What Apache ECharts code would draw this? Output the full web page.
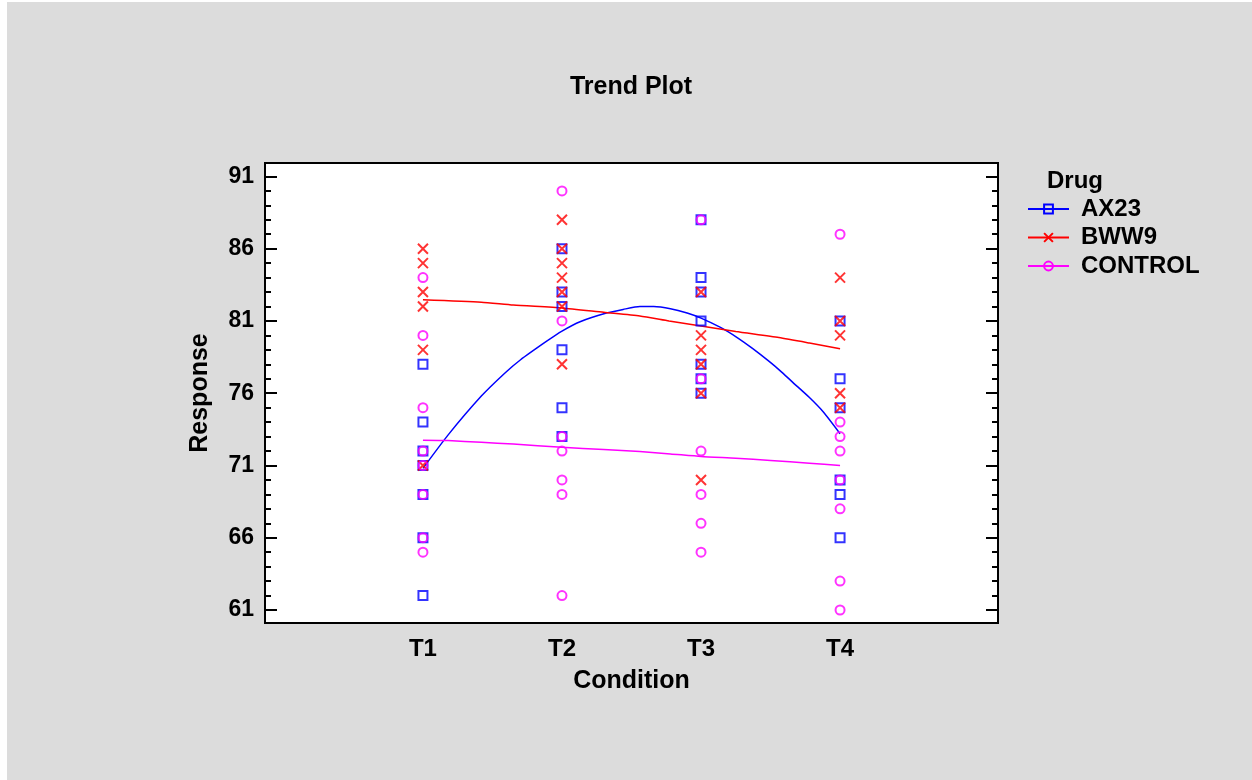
<!DOCTYPE html>
<html>
<head>
<meta charset="utf-8">
<script src="https://cdn.jsdelivr.net/npm/echarts@6/dist/echarts.min.js"></script>
<style>
  html, body { margin: 0; padding: 0; background: #ffffff; }
  #bg { position: absolute; left: 7px; top: 2px; width: 1245px; height: 778px; background: #dcdcdc; }
  #chart { position: absolute; left: 0; top: 0; width: 1252px; height: 780px; }
</style>
</head>
<body>
<div id="bg"></div>
<div id="chart"></div>
<script>
// ---- data ----
const conditions = ['T1', 'T2', 'T3', 'T4'];
const yTicks = [61, 66, 71, 76, 81, 86, 91];
const drugs = ['AX23', 'BWW9', 'CONTROL'];

// observed responses per condition (T1..T4)
const ax23Values = [
  [78, 74, 72, 71, 69, 66, 62],
  [86, 83, 82, 79, 75, 73],
  [88, 84, 83, 81, 78, 77, 76],
  [81, 77, 75, 70, 69, 66]
];
const bww9Values = [
  [86, 85, 83, 82, 79, 71],
  [88, 86, 85, 84, 83, 82, 78],
  [83, 80, 79, 78, 76, 70],
  [84, 81, 80, 76, 75]
];
const controlValues = [
  [84, 80, 75, 72, 71, 69, 66, 65],
  [90, 81, 73, 72, 70, 69, 62],
  [88, 77, 72, 69, 67, 65],
  [87, 74, 73, 72, 70, 68, 63, 61]
];

// fitted trend curves: [condition position, response]
const ax23Trend = [
  [1.0, 70.8], [1.18, 73.1], [1.42, 75.8], [1.59, 77.4], [1.70, 78.3], [1.89, 79.6],
  [2.0, 80.3], [2.13, 80.95], [2.32, 81.55], [2.44, 81.8], [2.56, 82.0], [2.66, 82.0],
  [2.78, 81.85], [2.90, 81.55], [3.0, 81.2], [3.14, 80.55], [3.26, 79.85], [3.37, 79.1],
  [3.49, 78.2], [3.57, 77.55], [3.66, 76.75], [3.78, 75.7], [3.88, 74.7], [4.0, 73.2]
];
const bww9Trend = [
  [1.0, 82.47], [1.42, 82.3], [1.65, 82.1], [2.0, 81.9], [2.3, 81.6], [2.56, 81.35],
  [2.77, 81.0], [3.0, 80.65], [3.25, 80.27], [3.56, 79.85], [3.78, 79.47], [4.0, 79.07]
];
const controlTrend = [
  [1.0, 72.75], [1.18, 72.72], [1.42, 72.6], [1.65, 72.48], [2.0, 72.26], [2.3, 72.1],
  [2.56, 71.96], [2.78, 71.8], [3.0, 71.62], [3.25, 71.5], [3.5, 71.35], [3.78, 71.15], [4.0, 71.0]
];

// ---- helpers ----
function toPoints(groups) {
  const out = [];
  groups.forEach((vals, i) => vals.forEach(v => out.push([i + 1, v])));
  return out;
}
const minorTicks = [];
for (let v = yTicks[0]; v <= yTicks[yTicks.length - 1]; v++) minorTicks.push(v);

const FONT = "'Liberation Sans', Arial, sans-serif";
const BLUE = '#0000ff', RED = '#ff0000', MAG = '#ff00ff';
const xSymbol = 'path://M0,0L10,10M10,0L0,10';

const chart = echarts.init(document.getElementById('chart'), null, { renderer: 'canvas' });

const yMin = 60.1, yMax = 91.93;
const txt = (size) => ({ color: '#000', fontFamily: FONT, fontWeight: 'bold', fontSize: size });

function tickAxis(pos, values, len) {
  return {
    type: 'value', position: pos, min: yMin, max: yMax,
    axisLine: { show: false }, splitLine: { show: false },
    axisLabel: { show: false },
    axisTick: { show: true, inside: true, length: len, customValues: values,
      lineStyle: { color: '#000', width: 2 } }
  };
}

chart.setOption({
  animation: false,
  backgroundColor: 'transparent',
  title: [
    { text: 'Trend Plot', left: 626, top: 70, textAlign: 'center', textStyle: txt(25) },
    { text: 'Drug', left: 1042, top: 164, textStyle: txt(24) }
  ],
  legend: {
    data: drugs,
    orient: 'vertical',
    left: 1022, top: 192,
    itemWidth: 41, itemHeight: 11, itemGap: 4.5,
    textStyle: Object.assign(txt(24), { padding: [0, 0, 0, 7] }),
    selectedMode: false
  },
  grid: {
    left: 265, top: 163, width: 733, height: 460,
    show: true, backgroundColor: '#ffffff', borderColor: '#000', borderWidth: 2,
    containLabel: false
  },
  xAxis: {
    type: 'value', min: -0.136, max: 5.136,
    axisLine: { show: false }, axisTick: { show: false }, splitLine: { show: false },
    axisLabel: Object.assign(txt(24), {
      customValues: [1, 2, 3, 4], margin: 14,
      formatter: v => conditions[Math.round(v) - 1] || ''
    }),
    name: 'Condition', nameLocation: 'middle', nameGap: 46,
    nameTextStyle: txt(25)
  },
  yAxis: [
    {
      type: 'value', position: 'left', min: yMin, max: yMax,
      axisLine: { show: false }, splitLine: { show: false },
      axisTick: { show: false },
      axisLabel: Object.assign(txt(23), { customValues: yTicks, margin: 11, padding: [3, 0, 0, 0] }),
      name: 'Response', nameLocation: 'middle', nameGap: 52,
      nameTextStyle: txt(25)
    },
    tickAxis('left', yTicks, 12),
    tickAxis('left', minorTicks, 6),
    tickAxis('right', yTicks, 12),
    tickAxis('right', minorTicks, 6)
  ],
  series: [
    { name: 'AX23', type: 'line', data: ax23Trend, smooth: 0.2, showSymbol: false,
      symbol: 'rect', z: 2,
      lineStyle: { color: BLUE, width: 1.5 },
      itemStyle: { color: 'transparent', borderColor: BLUE, borderWidth: 2 } },
    { name: 'BWW9', type: 'line', data: bww9Trend, smooth: 0.2, showSymbol: false,
      symbol: xSymbol, z: 2,
      lineStyle: { color: RED, width: 1.5 },
      itemStyle: { color: 'transparent', borderColor: RED, borderWidth: 2 } },
    { name: 'CONTROL', type: 'line', data: controlTrend, smooth: 0.2, showSymbol: false,
      symbol: 'circle', z: 2,
      lineStyle: { color: MAG, width: 1.5 },
      itemStyle: { color: 'transparent', borderColor: MAG, borderWidth: 2 } },
    { name: 'AX23 obs', type: 'scatter', data: toPoints(ax23Values), symbol: 'rect', symbolSize: 9, z: 3,
      itemStyle: { color: 'transparent', borderColor: BLUE, borderWidth: 2 } },
    { name: 'BWW9 obs', type: 'scatter', data: toPoints(bww9Values), symbol: xSymbol, symbolSize: 10, z: 3,
      itemStyle: { color: 'transparent', borderColor: RED, borderWidth: 2 } },
    { name: 'CONTROL obs', type: 'scatter', data: toPoints(controlValues), symbol: 'circle', symbolSize: 9, z: 3,
      itemStyle: { color: 'transparent', borderColor: MAG, borderWidth: 2 } }
  ]
});
</script>
</body>
</html>
